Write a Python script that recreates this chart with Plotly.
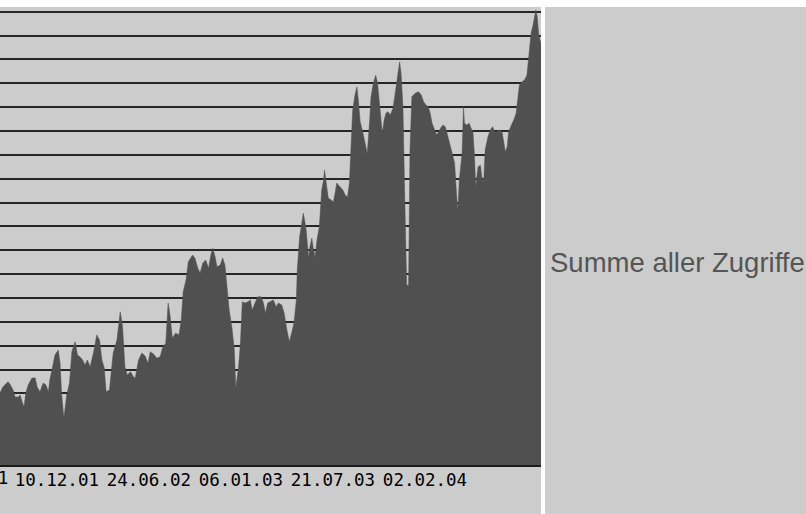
import plotly.graph_objects as go

# Tagesdaten: Datum und Summe aller Zugriffe
dates = [
    "2001-08-11", "2001-08-17", "2001-08-28", "2001-09-01", "2001-09-08", "2001-09-12", "2001-09-19", "2001-09-23",
    "2001-09-26", "2001-10-01", "2001-10-05", "2001-10-10", "2001-10-18", "2001-10-25", "2001-10-29", "2001-11-04",
    "2001-11-11", "2001-11-17", "2001-11-22", "2001-11-25", "2001-12-01", "2001-12-06", "2001-12-13", "2001-12-17",
    "2001-12-20", "2001-12-25", "2001-12-31", "2002-01-06", "2002-01-11", "2002-01-18", "2002-01-23", "2002-01-28",
    "2002-02-03", "2002-02-08", "2002-02-13", "2002-02-19", "2002-02-26", "2002-03-05", "2002-03-11", "2002-03-16",
    "2002-03-21", "2002-03-25", "2002-04-01", "2002-04-06", "2002-04-09", "2002-04-17", "2002-04-24", "2002-04-29",
    "2002-05-04", "2002-05-09", "2002-05-16", "2002-05-22", "2002-05-26", "2002-06-02", "2002-06-09", "2002-06-16",
    "2002-06-22", "2002-06-27", "2002-07-04", "2002-07-11", "2002-07-18", "2002-07-23", "2002-07-30", "2002-08-04",
    "2002-08-08", "2002-08-13", "2002-08-20", "2002-08-27", "2002-09-01", "2002-09-05", "2002-09-11", "2002-09-16",
    "2002-09-25", "2002-09-30", "2002-10-06", "2002-10-11", "2002-10-17", "2002-10-23", "2002-10-29", "2002-11-04",
    "2002-11-07", "2002-11-12", "2002-11-16", "2002-11-23", "2002-11-28", "2002-12-03", "2002-12-07", "2002-12-12",
    "2002-12-18", "2002-12-23", "2002-12-26", "2003-01-01", "2003-01-05", "2003-01-09", "2003-01-15", "2003-01-21",
    "2003-01-26", "2003-01-30", "2003-02-05", "2003-02-11", "2003-02-18", "2003-02-23", "2003-02-27", "2003-03-04",
    "2003-03-09", "2003-03-16", "2003-03-22", "2003-03-27", "2003-04-03", "2003-04-08", "2003-04-14", "2003-04-19",
    "2003-04-24", "2003-04-29", "2003-05-04", "2003-05-06", "2003-05-11", "2003-05-16", "2003-05-19", "2003-05-25",
    "2003-05-30", "2003-06-02", "2003-06-06", "2003-06-09", "2003-06-13", "2003-06-17", "2003-06-22", "2003-06-27",
    "2003-07-01", "2003-07-03", "2003-07-07", "2003-07-11", "2003-07-17", "2003-07-22", "2003-07-26", "2003-07-29",
    "2003-08-05", "2003-08-11", "2003-08-16", "2003-08-21", "2003-08-25", "2003-08-28", "2003-09-01", "2003-09-06",
    "2003-09-10", "2003-09-13", "2003-09-17", "2003-09-23", "2003-09-28", "2003-10-02", "2003-10-07", "2003-10-10",
    "2003-10-15", "2003-10-20", "2003-10-24", "2003-10-28", "2003-11-01", "2003-11-03", "2003-11-07", "2003-11-11",
    "2003-11-15", "2003-11-20", "2003-11-26", "2003-11-30", "2003-12-05", "2003-12-10", "2003-12-13", "2003-12-17",
    "2003-12-21", "2003-12-25", "2003-12-29", "2004-01-01", "2004-01-05", "2004-01-12", "2004-01-19", "2004-01-25",
    "2004-01-30", "2004-02-04", "2004-02-09", "2004-02-13", "2004-02-17", "2004-02-22", "2004-02-27", "2004-03-02",
    "2004-03-08", "2004-03-12", "2004-03-16", "2004-03-20", "2004-03-25", "2004-03-30", "2004-04-05", "2004-04-10",
    "2004-04-12", "2004-04-15", "2004-04-21", "2004-04-24", "2004-04-26", "2004-05-01", "2004-05-06", "2004-05-10",
    "2004-05-14", "2004-05-17", "2004-05-20", "2004-05-25", "2004-05-30", "2004-06-02", "2004-06-06", "2004-06-09",
    "2004-06-15", "2004-06-20", "2004-06-25", "2004-06-29", "2004-07-04", "2004-07-09", "2004-07-15", "2004-07-18",
    "2004-07-22", "2004-07-26", "2004-07-29", "2004-08-04", "2004-08-09", "2004-08-14", "2004-08-18", "2004-08-21",
    "2004-08-26", "2004-09-01", "2004-09-06", "2004-09-11", "2004-09-15", "2004-09-19", "2004-09-22", "2004-09-25",
    "2004-09-28", "2004-10-01", "2004-10-04", "2004-10-06",
]
zugriffe = [
    302, 327, 349, 340, 314, 285, 285, 293,
    272, 244, 302, 335, 365, 365, 328, 307,
    344, 335, 307, 356, 412, 461, 482, 427,
    302, 197, 293, 344, 475, 517, 461, 454,
    440, 419, 440, 412, 469, 545, 524, 440,
    407, 307, 314, 407, 469, 524, 642, 580,
    412, 377, 391, 370, 365, 440, 469, 457,
    427, 475, 465, 448, 454, 490, 511, 679,
    629, 532, 553, 545, 608, 726, 775, 852,
    880, 868, 826, 805, 847, 859, 826, 889,
    909, 873, 831, 838, 868, 838, 763, 650,
    574, 482, 323, 412, 511, 684, 679, 684,
    692, 650, 679, 705, 705, 679, 637, 679,
    684, 692, 663, 679, 671, 637, 566, 517,
    553, 595, 692, 817, 957, 1027, 1056, 985,
    868, 915, 951, 909, 873, 943, 999, 1153,
    1194, 1236, 1182, 1119, 1111, 1103, 1145, 1182,
    1166, 1153, 1132, 1124, 1182, 1334, 1488, 1551,
    1585, 1530, 1439, 1391, 1334, 1306, 1439, 1544,
    1600, 1634, 1600, 1517, 1425, 1391, 1446, 1475,
    1481, 1467, 1496, 1551, 1627, 1690, 1642, 1502,
    1111, 754, 754, 1320, 1544, 1558, 1565, 1551,
    1523, 1509, 1502, 1475, 1433, 1404, 1383, 1397,
    1418, 1425, 1418, 1391, 1350, 1306, 1266, 1111,
    1069, 1194, 1308, 1502, 1433, 1425, 1433, 1412,
    1397, 1308, 1166, 1250, 1257, 1208, 1187, 1320,
    1376, 1404, 1418, 1397, 1397, 1404, 1397, 1362,
    1313, 1334, 1397, 1425, 1446, 1475, 1544, 1593,
    1606, 1614, 1634, 1727, 1811, 1844, 1886, 1907,
    1879, 1809, 1781, 1770,
]

tick_dates = ["2001-12-10", "2002-06-24", "2003-01-06", "2003-07-21", "2004-02-02"]
tick_labels = ["10.12.01", "24.06.02", "06.01.03", "21.07.03", "02.02.04"]
cut_label = "28.05.01"
series_name = "Summe aller Zugriffe"

W, H = 806, 514
ML, MR, MT, MB = 0, 265, 7, 49
pw = W - ML - MR
ph = H - MT - MB

fig = go.Figure()
fig.add_trace(go.Scatter(
    x=dates, y=zugriffe, mode="lines", fill="tozeroy",
    fillcolor="#505050", line=dict(color="#505050", width=0.5),
    name=series_name, showlegend=False, hoverinfo="skip",
))

mono = "DejaVu Sans Mono"
fig.update_layout(
    width=W, height=H,
    margin=dict(l=ML, r=MR, t=MT, b=MB, pad=0),
    paper_bgcolor="#cccccc", plot_bgcolor="#cccccc",
    xaxis=dict(
        type="date", range=["2001-08-11", "2004-10-06"],
        tickmode="array", tickvals=tick_dates, ticktext=tick_labels,
        ticks="", ticklabelstandoff=-2,
        tickfont=dict(family=mono, size=17.5, color="#000000"),
        showgrid=False, zeroline=False,
        showline=True, linecolor="#1a1a1a", linewidth=2,
    ),
    yaxis=dict(
        range=[0, 1920], dtick=100, tick0=0,
        showticklabels=False, ticks="",
        showgrid=True, gridcolor="#262626", gridwidth=1.5,
        zeroline=False, showline=False,
    ),
    shapes=[
        dict(type="rect", xref="paper", yref="paper", x0=-0.01, x1=W / pw + 0.01,
             y0=1, y1=1 + MT / ph + 0.01, fillcolor="#ffffff", line=dict(width=0), layer="above"),
        dict(type="rect", xref="paper", yref="paper", x0=1.0, x1=(pw + 4) / pw,
             y0=-MB / ph - 0.01, y1=1 + MT / ph + 0.01, fillcolor="#ffffff", line=dict(width=0), layer="above"),
    ],
    annotations=[
        dict(text=cut_label, xref="paper", yref="paper", x=-34 / pw, y=-13 / ph,
             xanchor="center", yanchor="middle", showarrow=False,
             font=dict(family=mono, size=17.5, color="#000000")),
        dict(text=series_name, xref="paper", yref="paper", x=548 / pw, y=203 / ph,
             xanchor="left", yanchor="middle", showarrow=False,
             font=dict(family="Liberation Sans", size=27.5, color="#555555")),
    ],
)

fig.write_html("out.html", config={"displayModeBar": False},
               post_script="document.body.style.margin='0';document.body.style.padding='0';")
